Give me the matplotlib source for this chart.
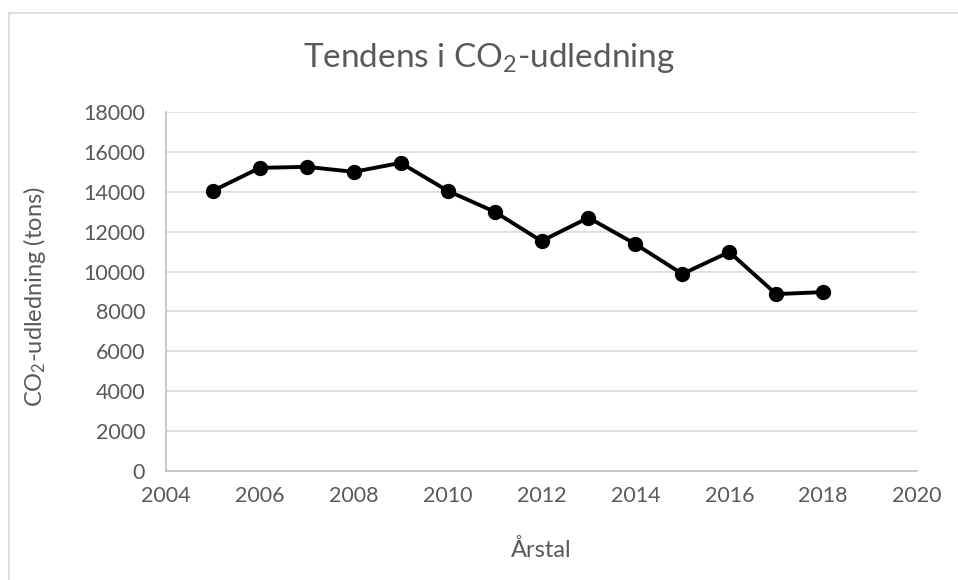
import matplotlib.pyplot as plt
from matplotlib.patches import Rectangle

# data
years = [2005, 2006, 2007, 2008, 2009, 2010, 2011, 2012, 2013, 2014, 2015, 2016, 2017, 2018]
co2 = [14050, 15200, 15250, 15000, 15450, 14050, 13000, 11530, 12700, 11380, 9880, 10980, 8870, 8970]

x_ticks = list(range(2004, 2021, 2))
y_ticks = list(range(0, 18001, 2000))

TXT = '#595959'
GRID = '#d9d9d9'
W, H = 958, 580

plt.rcParams['font.family'] = ['Lato', 'DejaVu Sans']
plt.rcParams['mathtext.fontset'] = 'custom'
plt.rcParams['mathtext.rm'] = 'Lato'
plt.rcParams['mathtext.it'] = 'Lato'
plt.rcParams['mathtext.bf'] = 'Lato'

fig = plt.figure(figsize=(W / 100, H / 100), dpi=100)

# outer chart border (cut off at right/bottom like the reference)
fig.patches.append(Rectangle((9 / W, -0.05), 1.0, 1 - 13 / H + 0.05,
                             transform=fig.transFigure, fill=False,
                             edgecolor=GRID, linewidth=1.2))

ax = fig.add_axes([166 / W, 1 - 471 / H, (917 - 166) / W, (471 - 112) / H])

ax.plot(years, co2, color='black', linewidth=2.8, marker='o', markersize=10,
        zorder=3, clip_on=False)

ax.set_xlim(2004, 2020)
ax.set_ylim(0, 18000)
ax.set_xticks(x_ticks)
ax.set_yticks(y_ticks)
ax.grid(axis='y', color=GRID, linewidth=1.2)
ax.set_axisbelow(True)

for side in ['top', 'right']:
    ax.spines[side].set_visible(False)
for side in ['left', 'bottom']:
    ax.spines[side].set_color('#bfbfbf')
    ax.spines[side].set_linewidth(1.2)

ax.tick_params(length=0, labelsize=15.5, colors=TXT)
ax.tick_params(axis='x', pad=11)
ax.tick_params(axis='y', pad=15)

# title and axis titles placed like the Excel chart
fig.text(489 / W, 1 - 67 / H, 'Tendens i CO$_2$-udledning', fontsize=24,
         color=TXT, ha='center', va='baseline')
fig.text(541.5 / W, 1 - 557 / H, 'Årstal', fontsize=17, color=TXT,
         ha='center', va='baseline')
fig.text(35 / W, 1 - 297 / H, 'CO$_2$-udledning (tons)', fontsize=17,
         color=TXT, ha='center', va='center', rotation=90)

fig.savefig('out.png', dpi=100, facecolor='white')
